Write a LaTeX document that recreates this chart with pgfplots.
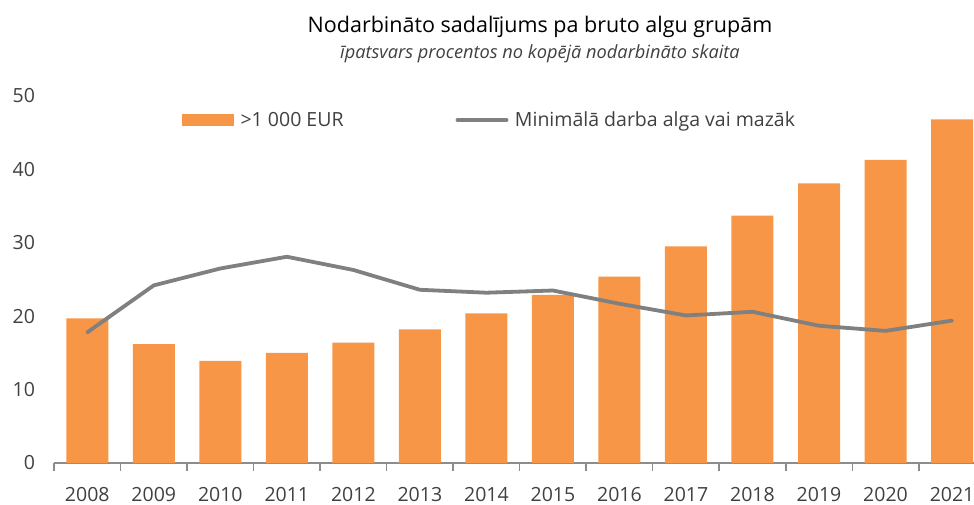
\documentclass[border=0pt]{standalone}
\usepackage{fontspec}
\setmainfont{Open Sans}
\usepackage{pgfplots}
\pgfplotsset{compat=1.18}
\definecolor{barorange}{HTML}{F79646}
\definecolor{linegray}{HTML}{808080}
\definecolor{axgray}{HTML}{8C8C8C}
\definecolor{txt}{HTML}{404040}
\begin{document}
\begin{tikzpicture}[x=1pt,y=1pt]
\useasboundingbox (0,0) rectangle (974,504);
\node[anchor=base, font=\fontsize{21.5}{25}\selectfont, text=black, inner sep=0pt] at (540,471.3) {Nodarbināto sadalījums pa bruto algu grupām};
\node[anchor=base, font=\fontsize{18.2}{21}\selectfont\itshape, text=txt, inner sep=0pt] at (540,445.7) {īpatsvars procentos no kopējā nodarbināto skaita};
\begin{axis}[
  at={(54pt,41pt)}, anchor=south west,
  scale only axis, width=920pt, height=367pt,
  xmin=-0.5, xmax=13.33, ymin=0, ymax=50,
  axis x line*=bottom, axis y line*=left,
  y axis line style={draw=none},
  x axis line style={draw=axgray, line width=1.5pt},
  xtick={0,...,13},
  xticklabels={2008,2009,2010,2011,2012,2013,2014,2015,2016,2017,2018,2019,2020,2021},
  minor xtick={-0.5,0.5,...,12.5},
  major tick length=0pt,
  minor tick length=8pt,
  tick align=outside,
  minor tick style={draw=axgray, line width=1.5pt},
  ytick={0,10,...,50},
  ytick style={draw=none},
  /pgf/number format/assume math mode=true,
  ticklabel style={font=\fontsize{19.5}{22}\selectfont, text=txt},
  xticklabel style={anchor=north, yshift=-20.5pt},
  yticklabel style={anchor=east, xshift=-15.5pt},
  legend columns=2,
  legend style={draw=none, fill=none, inner sep=0pt, at={(0.139,0.9346)}, anchor=west,
    font=\fontsize{19.5}{22}\selectfont, text=txt,
    nodes={inner sep=0pt, anchor=west},
    /tikz/every odd column/.append style={column sep=6.5pt},
    /tikz/every even column/.append style={column sep=112pt}},
  clip=true,
]
\addplot[ybar, bar width=42pt, fill=barorange, draw=none,
  legend image code/.code={\fill[barorange] (0pt,-6.2pt) rectangle (52pt,6.2pt);}]
  coordinates {(0,19.7) (1,16.2) (2,13.9) (3,15.0) (4,16.4) (5,18.2) (6,20.4) (7,22.9) (8,25.4) (9,29.5) (10,33.7) (11,38.1) (12,41.3) (13,46.8)};
\addlegendentry{>1~000 EUR}
\addplot[linegray, line width=3.8pt, line cap=round, line join=round, mark=none,
  legend image code/.code={\draw[linegray, line width=3.8pt, line cap=round] (1.9pt,0pt) -- (51pt,0pt);}]
  coordinates {(0,17.8) (1,24.2) (2,26.5) (3,28.1) (4,26.3) (5,23.6) (6,23.2) (7,23.5) (8,21.7) (9,20.1) (10,20.6) (11,18.7) (12,18.0) (13,19.4)};
\addlegendentry{Minimālā darba alga vai mazāk}
\end{axis}
\end{tikzpicture}
\end{document}
